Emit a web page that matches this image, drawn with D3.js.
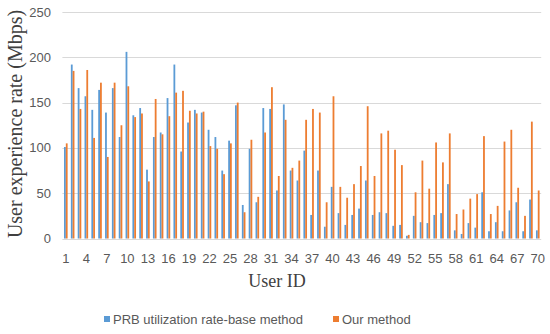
<!DOCTYPE html>
<html>
<head>
<meta charset="utf-8">
<script src="https://cdn.jsdelivr.net/npm/d3@7"></script>
<style>
  body { margin: 0; background: #fff; }
  svg { display: block; }
</style>
</head>
<body>
<svg id="chart" width="550" height="334"></svg>
<script>
// user ids 1..70
var userIds = d3.range(1, 71);
// PRB utilization rate-base method (blue)
var prbRate = [101, 192, 166, 157, 142, 164, 139, 166, 112, 206,
               136, 144, 76, 112, 117, 155, 192, 96, 128, 142,
               139, 120, 112, 75, 108, 147, 37, 99, 40, 144,
               143, 53, 148, 75, 64, 97, 26, 75, 13, 57,
               28, 15, 26, 33, 64, 26, 29, 28, 14, 15,
               3, 25, 18, 17, 26, 28, 60, 9, 5, 17,
               12, 51, 8, 18, 8, 31, 40, 8, 43, 9];
// Our method (orange)
var ourMethod = [105, 185, 143, 186, 111, 172, 90, 172, 125, 168,
                 134, 138, 63, 154, 115, 135, 161, 163, 141, 138,
                 140, 102, 99, 71, 105, 150, 29, 109, 46, 117,
                 167, 69, 131, 78, 86, 131, 143, 139, 40, 157,
                 57, 45, 60, 80, 146, 69, 116, 119, 98, 81,
                 4, 51, 86, 55, 106, 84, 116, 27, 32, 44,
                 49, 113, 27, 36, 107, 120, 56, 25, 129, 53];
var yTicks = [0, 50, 100, 150, 200, 250];
var seriesNames = ["PRB utilization rate-base method", "Our method"];
var colors = ["#5b9bd5", "#ed7d31"];

var svg = d3.select("#chart");
var plotL = 62.4, plotR = 541.2, plotT = 12, plotB = 238.5;
var sansFont = "'Liberation Sans', Arial, sans-serif";
var serifFont = "'Liberation Serif', 'Times New Roman', serif";

var x = d3.scaleBand().domain(userIds).range([plotL, plotR]).padding(0);
var y = d3.scaleLinear().domain([0, 250]).range([plotB, plotT]);
var barW = 1.8;

// gridlines
svg.append("g").selectAll("line").data(yTicks).enter().append("line")
  .attr("x1", plotL).attr("x2", plotR)
  .attr("y1", function(d){ return Math.round(y(d)) + 0.5; })
  .attr("y2", function(d){ return Math.round(y(d)) + 0.5; })
  .attr("stroke", "#d9d9d9").attr("stroke-width", 1);

// y tick labels
svg.append("g").selectAll("text").data(yTicks).enter().append("text")
  .attr("x", 51).attr("y", function(d){ return y(d) + 4.5; })
  .attr("text-anchor", "end")
  .style("font-family", sansFont)
  .style("font-size", "13px").style("fill", "#595959")
  .text(function(d){ return d; });

// bars
var series = [prbRate, ourMethod];
series.forEach(function(vals, s){
  svg.append("g").selectAll("rect").data(vals).enter().append("rect")
    .attr("x", function(d, k){ return x(userIds[k]) + x.bandwidth()/2 - barW + s*barW; })
    .attr("y", function(d){ return y(d); })
    .attr("width", barW)
    .attr("height", function(d){ return plotB - y(d); })
    .attr("fill", colors[s]);
});

// x tick labels (every 3rd user)
svg.append("g").selectAll("text").data(userIds.filter(function(d){ return (d-1)%3==0; }))
  .enter().append("text")
  .attr("x", function(d){ return x(d) + x.bandwidth()/2; })
  .attr("y", 263)
  .attr("text-anchor", "middle")
  .style("font-family", sansFont)
  .style("font-size", "13px").style("fill", "#595959")
  .text(function(d){ return d; });

// axis titles
svg.append("text")
  .attr("x", 277).attr("y", 287)
  .attr("text-anchor", "middle")
  .style("font-family", serifFont)
  .style("font-size", "18px").style("fill", "#404040")
  .text("User ID");

svg.append("text")
  .attr("transform", "translate(22,124) rotate(-90)")
  .attr("text-anchor", "middle")
  .style("font-family", serifFont)
  .style("font-size", "20px").style("fill", "#404040")
  .text("User experience rate (Mbps)");

// legend
var legend = svg.append("g");
var legX = [104, 333];
seriesNames.forEach(function(name, s){
  legend.append("rect").attr("x", legX[s]).attr("y", 316)
    .attr("width", 6).attr("height", 6).attr("fill", colors[s]);
  legend.append("text").attr("x", legX[s] + 9).attr("y", 324)
    .style("font-family", sansFont)
    .style("font-size", "13px").style("fill", "#595959")
    .text(name);
});
</script>
</body>
</html>
